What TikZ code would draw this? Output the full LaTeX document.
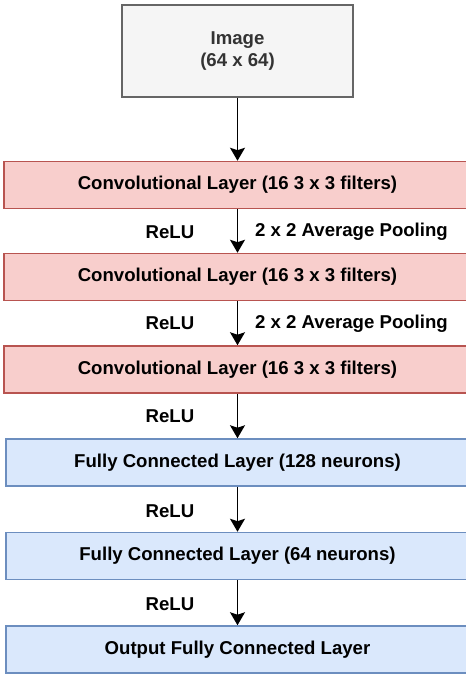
\documentclass[tikz,border=0pt]{standalone}
\usepackage{fontspec}
\setmainfont{Liberation Sans}
\usetikzlibrary{arrows.meta}
\definecolor{imgfill}{HTML}{F5F5F5}
\definecolor{imgline}{HTML}{666666}
\definecolor{imgtext}{HTML}{333333}
\definecolor{convfill}{HTML}{F8CECC}
\definecolor{convline}{HTML}{B85450}
\definecolor{fcfill}{HTML}{DAE8FC}
\definecolor{fcline}{HTML}{6C8EBF}
\tikzset{
  boldtext/.style={font=\fontsize{18.6}{22}\selectfont\bfseries},
  layerbox/.style={draw, line width=1.5pt, minimum height=47pt, inner sep=0pt,
    boldtext, text=black},
  convbox/.style={layerbox, fill=convfill, draw=convline, minimum width=467pt},
  fcbox/.style={layerbox, fill=fcfill, draw=fcline, minimum width=463pt},
  inputbox/.style={draw=imgline, fill=imgfill, line width=1.5pt, minimum width=231pt,
    minimum height=92pt, inner sep=0pt, align=center, text=imgtext, boldtext},
  flow/.style={line width=1.6pt, -{Stealth[length=13pt,width=15pt,inset=2.5pt]}},
  edgelabel/.style={boldtext, text=black, inner sep=0pt}
}
\begin{document}
\begin{tikzpicture}[x=1pt, y=-1pt]
  \useasboundingbox (0,0) rectangle (466,675);
  \clip (0,0) rectangle (466,675);
  \fill[white] (0,0) rectangle (466,675);

  % network stages, top to bottom
  \node[inputbox] (img) at (237.5,51) {Image\\(64 x 64)};
  \node[convbox] (c1) at (237.5,185) {Convolutional Layer (16 3 x 3 filters)};
  \node[convbox] (c2) at (237.5,277) {Convolutional Layer (16 3 x 3 filters)};
  \node[convbox] (c3) at (237.5,369.5) {Convolutional Layer (16 3 x 3 filters)};
  \node[fcbox] (f1) at (237.5,462.5) {Fully Connected Layer (128 neurons)};
  \node[fcbox] (f2) at (237.5,556) {Fully Connected Layer (64 neurons)};
  \node[fcbox] (out) at (237.5,649.5) {Output Fully Connected Layer};

  % connections between stages
  \draw[flow] (img) -- (c1);
  \draw[flow] (c1) -- (c2);
  \draw[flow] (c2) -- (c3);
  \draw[flow] (c3) -- (f1);
  \draw[flow] (f1) -- (f2);
  \draw[flow] (f2) -- (out);

  % activation and pooling annotations
  \node[edgelabel] (r1) at (170,232) {ReLU};
  \node[edgelabel, anchor=west] (p1) at (255,232) {2 x 2 Average Pooling};
  \node[edgelabel] (r2) at (170,323.5) {ReLU};
  \node[edgelabel, anchor=west] (p2) at (255,323.5) {2 x 2 Average Pooling};
  \node[edgelabel] (r3) at (170,416) {ReLU};
  \node[edgelabel] (r4) at (170,511) {ReLU};
  \node[edgelabel] (r5) at (170,604) {ReLU};
\end{tikzpicture}
\end{document}
